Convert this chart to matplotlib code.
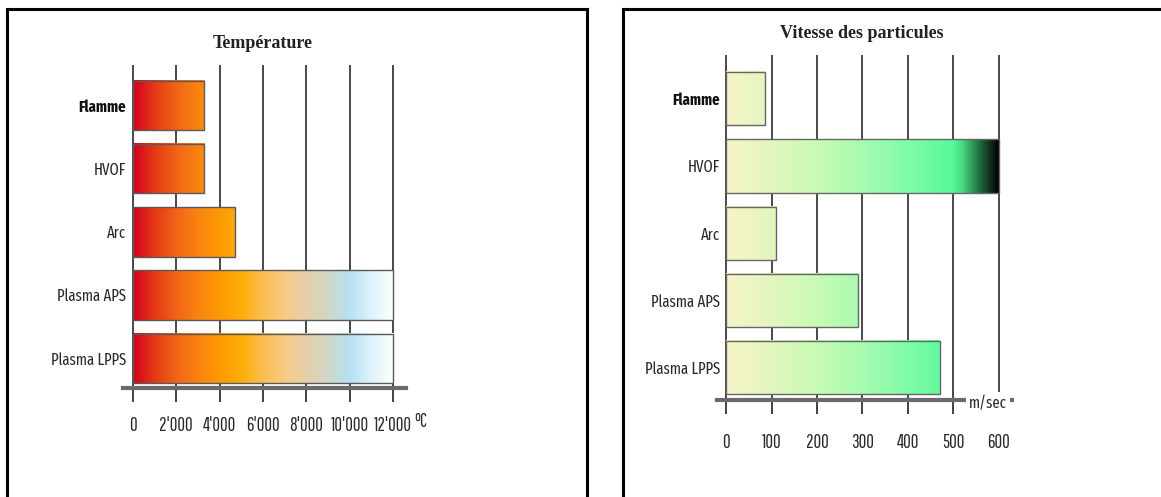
import numpy as np
import matplotlib.pyplot as plt
from matplotlib.colors import LinearSegmentedColormap

# procédés de projection thermique
procedes = ["Flamme", "HVOF", "Arc", "Plasma APS", "Plasma LPPS"]
temperature = [3300, 3300, 4700, 12000, 12000]      # °C
vitesse = [85, 600, 110, 290, 470]                  # m/sec

temp_ticks = [0, 2000, 4000, 6000, 8000, 10000, 12000]
temp_labels = ["0", "2'000", "4'000", "6'000", "8'000", "10'000", "12'000"]
vit_ticks = [0, 100, 200, 300, 400, 500, 600]
vit_labels = ["0", "100", "200", "300", "400", "500", "600"]

# couleurs du dégradé selon la valeur
temp_stops = [0, 1000, 2000, 3000, 4000, 5000, 6000, 7000, 8000, 9000, 10000, 11000, 12000]
temp_colors = ["#d4001e", "#e43a16", "#f06616", "#fa8410", "#fe9a04", "#ffad0a", "#fbbe52",
               "#f6cb86", "#e6cfaa", "#cfd8c8", "#b6e2f2", "#dff3fb", "#ffffff"]
vit_stops = [0, 100, 200, 300, 400, 500, 520, 560, 600]
vit_colors = ["#f8f4c8", "#e2f6c0", "#c8fcb4", "#a8fab0", "#80fca8", "#58f898", "#4cd884",
              "#1e6a3c", "#000000"]

W, H = 1161, 497
NARROW = ["Fira Sans Extra Condensed", "Sofia Sans Extra Condensed", "Roboto Condensed", "DejaVu Sans"]
TICKFONT = ["Pathway Gothic One", "Fira Sans Extra Condensed", "DejaVu Sans"]


def px_axes(fig, x0, y0, x1, y1, **kw):
    return fig.add_axes([x0 / W, 1 - y1 / H, (x1 - x0) / W, (y1 - y0) / H], **kw)


def make_cmap(stops, colors):
    vmax = stops[-1]
    return LinearSegmentedColormap.from_list("", [(s / vmax, c) for s, c in zip(stops, colors)])


def gradient_bars(ax, values, cmap, vmax, height, edge):
    for i, v in enumerate(values):
        grad = np.linspace(0, v, 256).reshape(1, -1)
        ax.imshow(grad, cmap=cmap, vmin=0, vmax=vmax, aspect="auto",
                  extent=[0, v, i + height / 2, i - height / 2],
                  interpolation="bilinear", zorder=2)
    ax.barh(range(len(values)), values, height=height, fill=False,
            edgecolor=edge, linewidth=1.0, zorder=3)


def style_chart(ax, ticks, labels, xlim, ylim, pad):
    ax.set_xlim(*xlim)
    ax.set_ylim(*ylim)
    ax.set_xticks(ticks, labels, family=TICKFONT, fontsize=13.5, color="#2a2a2a")
    ax.set_yticks(range(len(procedes)), procedes, family=NARROW, fontsize=11.5, color="#2a2a2a")
    ax.get_yticklabels()[0].set_fontweight("bold")
    ax.get_yticklabels()[0].set_color("#111111")
    ax.tick_params(axis="x", length=10, width=1.3, color="#333333", pad=pad)
    ax.tick_params(axis="y", length=0, pad=-2)
    ax.grid(axis="x", color="#3a3a3a", linewidth=1.3, zorder=1)
    ax.grid(axis="y", visible=False)
    ax.set_axisbelow(True)
    for s in ("top", "left", "right"):
        ax.spines[s].set_visible(False)
    ax.spines["bottom"].set_color("#6a6a6a")
    ax.spines["bottom"].set_linewidth(3)
    ax.spines["bottom"].set_zorder(4)
    ax.patch.set_alpha(0)


fig = plt.figure(figsize=(W / 100, H / 100), dpi=100)

# cadres des deux panneaux
for x0, x1 in ((7, 587), (623, 1175)):
    frame = px_axes(fig, x0, 9, x1, 510)
    frame.set_xticks([])
    frame.set_yticks([])
    for s in frame.spines.values():
        s.set_linewidth(2.2)
        s.set_color("black")
    frame.spines["bottom"].set_visible(False)

# Température
ax1 = px_axes(fig, 123, 65, 406, 388)
gradient_bars(ax1, temperature, make_cmap(temp_stops, temp_colors), temp_stops[-1], 0.78, "#5a5a5a")
style_chart(ax1, temp_ticks, temp_labels, (-460, 12600), (4.47, -0.64), 10)
fig.text(263 / W, 1 - 43 / H, "Température", family="Liberation Serif", fontweight="bold",
         fontsize=13, ha="center", va="center", color="#222222")
ax1.annotate("°C", xy=(1, 0), xycoords="axes fraction", xytext=(6, -24),
             textcoords="offset points", family=TICKFONT, fontsize=13.5, color="#2a2a2a",
             ha="left", va="center")

# Vitesse des particules
ax2 = px_axes(fig, 717, 55, 1012, 400)
gradient_bars(ax2, vitesse, make_cmap(vit_stops, vit_colors), vit_stops[-1], 0.79, "#666666")
style_chart(ax2, vit_ticks, vit_labels, (-19.8, 628.6), (4.48, -0.65), 14)
fig.text(862 / W, 1 - 33 / H, "Vitesse des particules", family="Liberation Serif",
         fontweight="bold", fontsize=13, ha="center", va="center", color="#222222")
ax2.text(576, 4.53, "m/sec", family=NARROW, fontsize=11.5, color="#2a2a2a",
         ha="center", va="center", zorder=6,
         bbox=dict(boxstyle="square,pad=0.2", facecolor="white", edgecolor="none"))

fig.savefig("out.png", dpi=100)
